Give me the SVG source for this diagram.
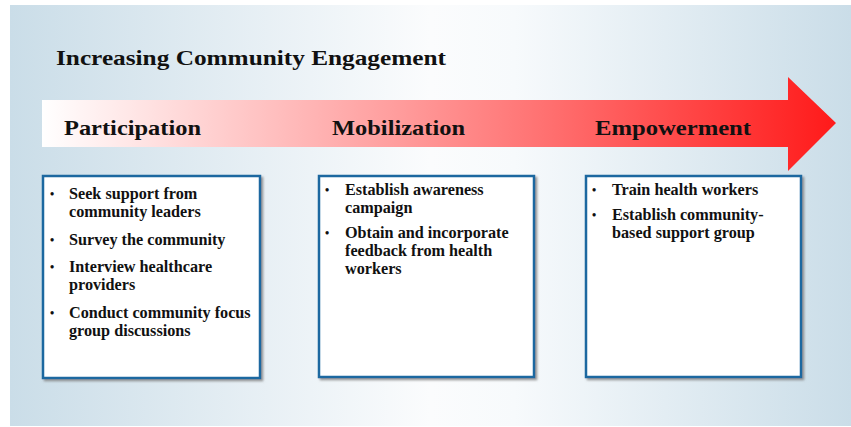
<svg xmlns="http://www.w3.org/2000/svg" width="851" height="427" viewBox="0 0 851 427">
<defs>
<linearGradient id="bg" x1="0" y1="0" x2="1" y2="0">
<stop offset="0" stop-color="#cadde8"/>
<stop offset="0.5" stop-color="#fbfcfd"/>
<stop offset="0.6" stop-color="#f7fafc"/>
<stop offset="1" stop-color="#cadde8"/>
</linearGradient>
<linearGradient id="arr" gradientUnits="userSpaceOnUse" x1="42" y1="0" x2="836" y2="0">
<stop offset="0" stop-color="#ffffff"/>
<stop offset="0.45" stop-color="#ff9c9c"/>
<stop offset="1" stop-color="#ff1a1a"/>
</linearGradient>
<filter id="sh" x="-5%" y="-5%" width="115%" height="115%">
<feDropShadow dx="2" dy="2" stdDeviation="0.8" flood-color="#7f7f7f" flood-opacity="0.8"/>
</filter>
</defs>
<style>
.title{font-family:"Liberation Serif",serif;font-weight:bold;font-size:22px;fill:#111}
.stage{font-family:"Liberation Serif",serif;font-weight:bold;font-size:22px;fill:#111}
.box{fill:#ffffff;stroke:#1a67a0;stroke-width:2.5;filter:url(#sh)}
.t{font-family:"Liberation Serif",serif;font-weight:bold;font-size:16.2px;fill:#111}
.b{font-family:"Liberation Serif",serif;font-weight:bold;font-size:12px;fill:#111}
</style>
<rect x="10" y="5" width="841" height="421" fill="url(#bg)"/>
<text class="title" x="56" y="65" textLength="390" lengthAdjust="spacingAndGlyphs">Increasing Community Engagement</text>
<g id="arrow">
<polygon points="42,100 788,100 788,77 836,123 788,171 788,147 42,147" fill="url(#arr)"/>
<text class="stage" x="64" y="135" textLength="137" lengthAdjust="spacingAndGlyphs">Participation</text>
<text class="stage" x="332" y="135" textLength="133" lengthAdjust="spacingAndGlyphs">Mobilization</text>
<text class="stage" x="595" y="135" textLength="156" lengthAdjust="spacingAndGlyphs">Empowerment</text>
</g>
<g id="participation">
<rect class="box" x="43" y="176" width="217" height="202"/>
<text class="b" x="50" y="198">•</text>
<text class="t" x="69" y="199">Seek support from</text>
<text class="t" x="69" y="217">community leaders</text>
<text class="b" x="50" y="244">•</text>
<text class="t" x="69" y="245">Survey the community</text>
<text class="b" x="50" y="271">•</text>
<text class="t" x="69" y="272">Interview healthcare</text>
<text class="t" x="69" y="290">providers</text>
<text class="b" x="50" y="317">•</text>
<text class="t" x="69" y="318">Conduct community focus</text>
<text class="t" x="69" y="336">group discussions</text>
</g>
<g id="mobilization">
<rect class="box" x="319" y="176" width="215" height="201"/>
<text class="b" x="325" y="194">•</text>
<text class="t" x="345" y="195">Establish awareness</text>
<text class="t" x="345" y="213">campaign</text>
<text class="b" x="325" y="237">•</text>
<text class="t" x="345" y="238">Obtain and incorporate</text>
<text class="t" x="345" y="256">feedback from health</text>
<text class="t" x="345" y="274">workers</text>
</g>
<g id="empowerment">
<rect class="box" x="586" y="176" width="215" height="201"/>
<text class="b" x="592" y="194">•</text>
<text class="t" x="612" y="195">Train health workers</text>
<text class="b" x="592" y="219">•</text>
<text class="t" x="612" y="220">Establish community-</text>
<text class="t" x="612" y="238">based support group</text>
</g>
</svg>
